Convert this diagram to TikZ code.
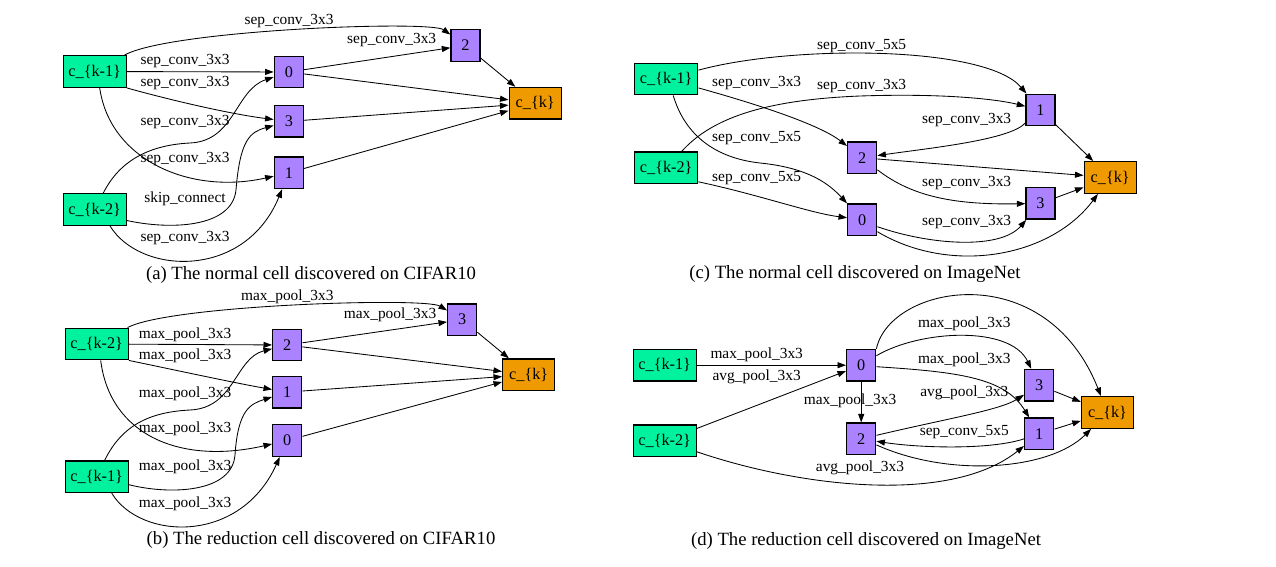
\documentclass[tikz,border=0pt]{standalone}
\usepackage{fontspec}
\setmainfont{Liberation Serif}
\usepackage{tikz}
\usetikzlibrary{arrows.meta,positioning}
\definecolor{ingreen}{HTML}{00F29F}
\definecolor{midpurple}{HTML}{AB82FF}
\definecolor{outorange}{HTML}{EE9A00}
\newcommand{\lblfont}{\fontsize{15.4}{18}\selectfont}
\newcommand{\boxfont}{\fontsize{16.2}{19}\selectfont}
\newcommand{\capfont}{\fontsize{18.7}{22}\selectfont}

\begin{document}
\begin{tikzpicture}[
    x=1pt, y=-1pt,
    cellbox/.style={rectangle, draw, line width=1.4pt, inner sep=0pt,
                minimum height=31.5pt, font=\boxfont},
    innode/.style={cellbox, fill=ingreen, minimum width=63pt},
    opnode/.style={cellbox, fill=midpurple, minimum width=29pt},
    outnode/.style={cellbox, fill=outorange, minimum width=52pt},
    lbl/.style={inner sep=0pt, font=\lblfont},
    captext/.style={inner sep=0pt, font=\capfont},
    conn/.style={->, line width=0.85pt},
    >={Triangle[length=8.5pt,width=6pt]}
]
\useasboundingbox (0,0) rectangle (1276,567);

% (a) normal cell, CIFAR10
\node[innode] (km1a) at (94.7,71.5) {c\_\{k-1\}};
\node[innode] (km2a) at (94.7,209.5) {c\_\{k-2\}};
\node[opnode] (n0a) at (288.8,72) {0};
\node[opnode, below=16.5pt of n0a] (n3a) {3};
\node[opnode, below=18.5pt of n3a] (n1a) {1};
\node[opnode] (n2a) at (465.5,45.5) {2};
\node[outnode] (ka) at (535.2,103.2) {c\_\{k\}};

\draw[conn] (km1a) .. controls (170,30) and (430,20) .. (n2a);
\draw[conn] (n0a) -- (n2a);
\draw[conn] (km1a) -- (n0a);
\draw[conn] (km1a.south east) .. controls (170,100) and (230,114) .. (n3a);
\draw[conn] ([xshift=5pt]km1a.south) .. controls (110,160) and (190,195) .. (n1a);
\draw[conn] ([xshift=8.6pt]km2a.north) .. controls (120,160) and (150,145) .. (190,143)
    .. controls (235,141) and (235,90) .. (n0a);
\draw[conn] ([yshift=-11pt]km2a.east) .. controls (170,230) and (232,228) .. (236,190)
    .. controls (240,140) and (250,132) .. (n3a);
\draw[conn] ([xshift=15.3pt]km2a.south) .. controls (140,275) and (245,280) .. (n1a);
\draw[conn] (n0a) -- (ka);
\draw[conn] (n3a) -- (ka);
\draw[conn] (n1a) -- (ka);
\draw[conn] (n2a) -- (ka);

\node[lbl] (la1) at (289,20.7) {sep\_conv\_3x3};
\node[lbl] (la2) at (391.7,40) {sep\_conv\_3x3};
\node[lbl] (la3) at (185,60.7) {sep\_conv\_3x3};
\node[lbl] (la4) at (185,82.7) {sep\_conv\_3x3};
\node[lbl] (la5) at (185,121.7) {sep\_conv\_3x3};
\node[lbl] (la6) at (185,159.3) {sep\_conv\_3x3};
\node[lbl] (la7) at (185,199) {skip\_connect};
\node[lbl] (la8) at (185,237.7) {sep\_conv\_3x3};
\node[captext] (capa) at (311,275) {(a) The normal cell discovered on CIFAR10};

% (c) normal cell, ImageNet
\node[innode] (km1c) at (666.2,79) {c\_\{k-1\}};
\node[innode] (km2c) at (666.2,167.8) {c\_\{k-2\}};
\node[opnode] (n2c) at (862.2,157.8) {2};
\node[opnode, below=29pt of n2c] (n0c) {0};
\node[opnode] (n1c) at (1040.5,110) {1};
\node[opnode, below=60.5pt of n1c] (n3c) {3};
\node[outnode] (kc) at (1110.2,177.5) {c\_\{k\}};

\draw[conn] (km1c) .. controls (790,45) and (985,45) .. (n1c);
\draw[conn] (km1c) .. controls (760,105) and (820,125) .. (n2c);
\draw[conn] ([xshift=7pt]km1c.south) .. controls (685,135) and (715,158) .. (760,163)
    .. controls (810,168) and (830,185) .. (n0c);
\draw[conn] ([xshift=15.5pt]km2c.north) .. controls (710,120) and (760,100) .. (860,96)
    .. controls (950,93) and (1000,100) .. (n1c);
\draw[conn] ([yshift=-14pt]km2c.east) .. controls (760,195) and (810,213) .. (n0c);
\draw[conn] ([yshift=-13pt]n1c.west) .. controls (1010,140) and (930,148) .. (n2c);
\draw[conn] (n2c) -- (kc);
\draw[conn] ([yshift=-12pt]n2c.east) .. controls (910,195) and (950,205) .. (n3c);
\draw[conn] ([yshift=-7pt]n0c.east) .. controls (930,245) and (1000,250) .. (n3c);
\draw[conn] ([yshift=-12pt]n0c.east) .. controls (950,275) and (1050,258) .. (kc);
\draw[conn] (n1c) -- (kc);
\draw[conn] (n3c) -- (kc);

\node[lbl] (lc1) at (861.7,46) {sep\_conv\_5x5};
\node[lbl] (lc2) at (756.7,83.3) {sep\_conv\_3x3};
\node[lbl] (lc3) at (861.7,86) {sep\_conv\_3x3};
\node[lbl] (lc4) at (966.7,120) {sep\_conv\_3x3};
\node[lbl] (lc5) at (756.7,138.3) {sep\_conv\_5x5};
\node[lbl] (lc6) at (756.7,178.3) {sep\_conv\_5x5};
\node[lbl] (lc7) at (966.7,183.3) {sep\_conv\_3x3};
\node[lbl] (lc8) at (966.7,221.7) {sep\_conv\_3x3};
\node[captext] (capc) at (855,274) {(c) The normal cell discovered on ImageNet};

% (b) reduction cell, CIFAR10
\node[innode] (km2b) at (96.7,344) {c\_\{k-2\}};
\node[innode] (km1b) at (96.7,476.7) {c\_\{k-1\}};
\node[opnode] (n2b) at (287.2,345) {2};
\node[opnode, below=14.2pt of n2b] (n1b) {1};
\node[opnode, below=15.5pt of n1b] (n0b) {0};
\node[opnode] (n3b) at (462.2,319.7) {3};
\node[outnode] (kb) at (528.7,374.7) {c\_\{k\}};

\draw[conn] (km2b) .. controls (170,305) and (425,297) .. (n3b);
\draw[conn] (n2b) -- (n3b);
\draw[conn] (km2b) -- (n2b);
\draw[conn] (km2b.south east) .. controls (175,370) and (235,383) .. (n1b);
\draw[conn] ([xshift=4pt]km2b.south) .. controls (110,435) and (180,465) .. (n0b);
\draw[conn] ([xshift=8pt]km1b.north) .. controls (122,425) and (150,412) .. (190,410)
    .. controls (235,408) and (235,358) .. (n2b);
\draw[conn] ([yshift=-8pt]km1b.east) .. controls (170,495) and (232,493) .. (235,455)
    .. controls (238,410) and (250,404) .. (n1b);
\draw[conn] ([xshift=15pt]km1b.south) .. controls (140,540) and (240,545) .. (n0b);
\draw[conn] (n2b) -- (kb);
\draw[conn] (n1b) -- (kb);
\draw[conn] (n0b) -- (kb);
\draw[conn] (n3b) -- (kb);

\node[lbl] (lb1) at (287.3,296.7) {max\_pool\_3x3};
\node[lbl] (lb2) at (390,315) {max\_pool\_3x3};
\node[lbl] (lb3) at (185,334.3) {max\_pool\_3x3};
\node[lbl] (lb4) at (185,355.7) {max\_pool\_3x3};
\node[lbl] (lb5) at (185,393.3) {max\_pool\_3x3};
\node[lbl] (lb6) at (185,428.3) {max\_pool\_3x3};
\node[lbl] (lb7) at (185,466.7) {max\_pool\_3x3};
\node[lbl] (lb8) at (185,503.3) {max\_pool\_3x3};
\node[captext] (capb) at (321,540) {(b) The reduction cell discovered on CIFAR10};

% (d) reduction cell, ImageNet
\node[innode] (km1d) at (664.7,365.2) {c\_\{k-1\}};
\node[innode] (km2d) at (664.7,440.8) {c\_\{k-2\}};
\node[opnode] (n0d) at (861.2,365.2) {0};
\node[opnode, below=40.8pt of n0d] (n2d) {2};
\node[opnode] (n3d) at (1039.2,385.2) {3};
\node[opnode, below=15.8pt of n3d] (n1d) {1};
\node[outnode] (kd) at (1107.5,412.5) {c\_\{k\}};

\draw[conn] (km1d) -- (n0d);
\draw[conn] (km2d) -- (n0d);
\draw[conn] ([yshift=-11pt]km2d.east) .. controls (800,487) and (950,505) .. (n1d);
\draw[conn] (n0d) -- (n2d);
\draw[conn] (n0d.north east) .. controls (890,285) and (1045,255) .. (kd);
\draw[conn] ([yshift=9.5pt]n0d.east) .. controls (920,330) and (1010,325) .. (n3d);
\draw[conn] ([yshift=-1.5pt]n0d.east) .. controls (960,372) and (1005,378) .. (n1d);
\draw[conn] (n2d) .. controls (950,418) and (1000,410) .. (n3d);
\draw[conn] (n1d) .. controls (990,450) and (920,448) .. (n2d);
\draw[conn] ([yshift=-6pt]n2d.east) .. controls (950,478) and (1050,470) .. (kd);
\draw[conn] (n3d) -- (kd);
\draw[conn] (n1d) -- (kd);

\node[lbl] (ld1) at (756.7,355) {max\_pool\_3x3};
\node[lbl] (ld2) at (756.7,376.7) {avg\_pool\_3x3};
\node[lbl] (ld3) at (850,401) {max\_pool\_3x3};
\node[lbl] (ld4) at (964.3,323.3) {max\_pool\_3x3};
\node[lbl] (ld5) at (964.3,360) {max\_pool\_3x3};
\node[lbl] (ld6) at (964.3,393.3) {avg\_pool\_3x3};
\node[lbl] (ld7) at (964.3,431.7) {sep\_conv\_5x5};
\node[lbl] (ld8) at (860,468.3) {avg\_pool\_3x3};
\node[captext] (capd) at (866,541) {(d) The reduction cell discovered on ImageNet};
\end{tikzpicture}
\end{document}
